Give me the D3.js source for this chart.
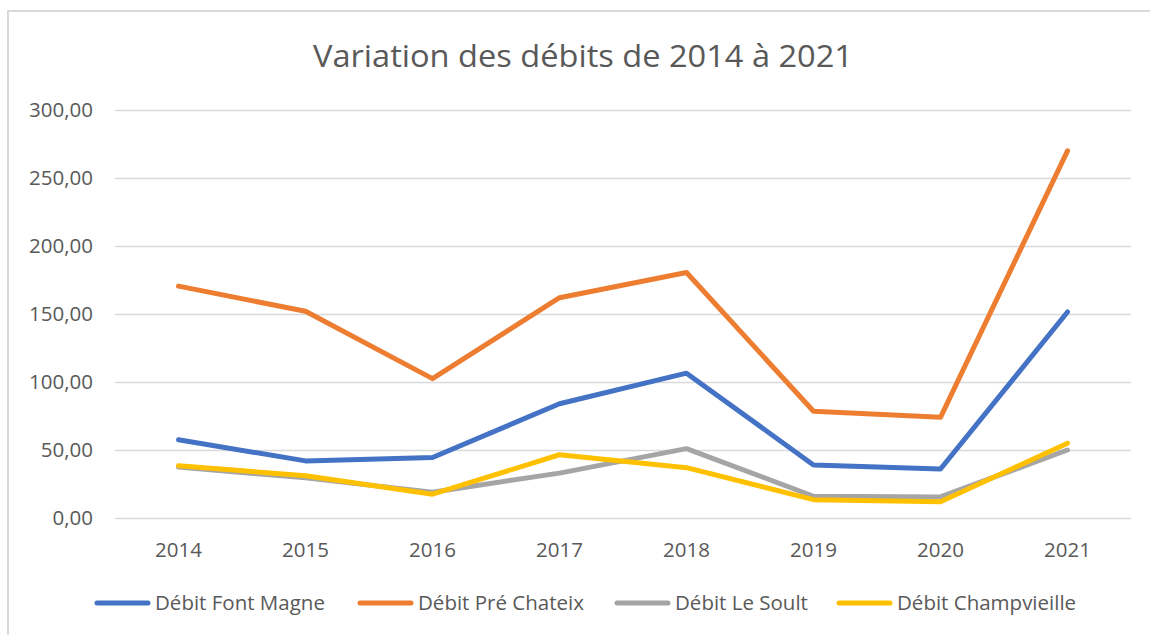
<!DOCTYPE html>
<html lang="fr">
<head>
  <meta charset="UTF-8" />
  <title>Variation des débits de 2014 à 2021</title>
  <script src="https://cdn.jsdelivr.net/npm/d3@7"></script>
  <style>
    html, body { margin: 0; padding: 0; background: #fff; overflow: hidden; }
    svg { display: block; }
    text { font-family: "Open Sans", "Noto Sans", sans-serif; fill: #595959; }
  </style>
</head>
<body>
<script>
  // ------ Data ------
  const years = ["2014", "2015", "2016", "2017", "2018", "2019", "2020", "2021"];
  const seriesNames = ["Débit Font Magne", "Débit Pré Chateix", "Débit Le Soult", "Débit Champvieille"];
  const fontMagne   = [57.5, 42, 44.5, 84, 106.5, 39, 36, 151.5];
  const preChateix  = [170.5, 152, 102.5, 162, 180.5, 78.5, 74, 270];
  const leSoult     = [37.5, 29.5, 19, 33, 51, 16, 15.5, 50];
  const champvieille = [38.5, 31, 17.5, 46.5, 37, 13.5, 12, 55];
  const yTicks = [0, 50, 100, 150, 200, 250, 300];

  const seriesValues = [fontMagne, preChateix, leSoult, champvieille];
  const colors = ["#4472C4", "#ED7D31", "#A5A5A5", "#FFC000"];

  const width = 1150, height = 635;
  const plot = { left: 115, right: 1131, top: 110, bottom: 518 };
  const labelSize = 20.5;

  const svg = d3.select("body").append("svg")
    .attr("width", width)
    .attr("height", height);

  // chart frame (only top and left edges are visible in the crop)
  svg.append("rect")
    .attr("x", 8).attr("y", 11)
    .attr("width", width + 20).attr("height", height + 20)
    .attr("fill", "#fff")
    .attr("stroke", "#D9D9D9")
    .attr("stroke-width", 2);

  // title
  svg.append("text")
    .attr("x", 583).attr("y", 67)
    .attr("text-anchor", "middle")
    .attr("font-size", 31)
    .attr("textLength", 540)
    .attr("lengthAdjust", "spacingAndGlyphs")
    .text("Variation des débits de 2014 à 2021");

  // ------ Scales ------
  const x = d3.scaleBand().domain(years).range([plot.left, plot.right]);
  const y = d3.scaleLinear().domain([0, 300]).range([plot.bottom, plot.top]);
  const fmt = v => d3.format(".2f")(v).replace(".", ",");

  // gridlines + y labels
  const yAxis = d3.axisLeft(y).tickValues(yTicks).tickFormat(fmt)
    .tickSize(-(plot.right - plot.left)).tickPadding(22);
  const gy = svg.append("g")
    .attr("transform", `translate(${plot.left},0)`)
    .call(yAxis);
  gy.select(".domain").remove();
  gy.selectAll(".tick line").attr("stroke", "#D9D9D9").attr("stroke-width", 1.5);
  gy.selectAll(".tick text")
    .attr("font-size", labelSize)
    .attr("fill", "#595959")
    .attr("font-family", "Open Sans, sans-serif");

  // x labels
  const xAxis = d3.axisBottom(x).tickSize(0).tickPadding(0);
  const gx = svg.append("g")
    .attr("transform", `translate(0,${plot.bottom})`)
    .call(xAxis);
  gx.select(".domain").remove();
  gx.selectAll(".tick text")
    .attr("dy", null)
    .attr("y", 39)
    .attr("font-size", labelSize)
    .attr("fill", "#595959")
    .attr("font-family", "Open Sans, sans-serif");

  // ------ Lines ------
  const line = d3.line()
    .x((d, i) => x(years[i]) + x.bandwidth() / 2)
    .y(d => y(d));

  seriesValues.forEach((vals, k) => {
    svg.append("path")
      .datum(vals)
      .attr("fill", "none")
      .attr("stroke", colors[k])
      .attr("stroke-width", 5)
      .attr("stroke-linejoin", "round")
      .attr("stroke-linecap", "round")
      .attr("d", line);
  });

  // ------ Legend ------
  const legendX = [95, 358, 615, 837];
  const legendY = 603;
  const legend = svg.append("g");
  seriesNames.forEach((name, k) => {
    legend.append("line")
      .attr("x1", legendX[k] + 2).attr("x2", legendX[k] + 53)
      .attr("y1", legendY).attr("y2", legendY)
      .attr("stroke", colors[k])
      .attr("stroke-width", 5)
      .attr("stroke-linecap", "round");
    legend.append("text")
      .attr("x", legendX[k] + 60)
      .attr("y", legendY + 7)
      .attr("font-size", labelSize)
      .text(name);
  });
</script>
</body>
</html>
